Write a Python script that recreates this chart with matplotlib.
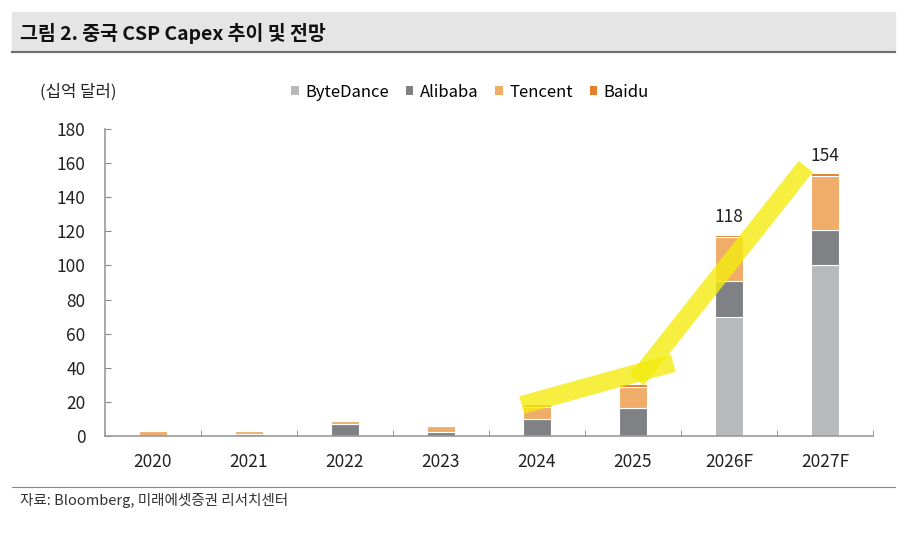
import matplotlib.pyplot as plt
import numpy as np

plt.rcParams['font.family'] = ['Noto Sans CJK KR', 'DejaVu Sans']

# 중국 CSP Capex (십억 달러)
years = ['2020', '2021', '2022', '2023', '2024', '2025', '2026F', '2027F']
bytedance = [0, 0, 0, 0, 0, 0, 70, 100]
alibaba = [0.2, 1.4, 7.0, 2.6, 10.0, 16.5, 21.0, 21.0]
tencent = [2.8, 1.8, 1.8, 3.3, 7.0, 12.5, 25.5, 31.5]
baidu = [0.2, 0.4, 0.4, 0.3, 1.5, 1.5, 1.5, 1.5]
totals_shown = {6: 118, 7: 154}

# hand-drawn yellow highlight (x in category units, y in 십억 달러)
hl1_x, hl1_y = [3.84, 5.42], [18.2, 42.8]
hl2_x, hl2_y = [5.04, 6.80], [32.8, 158.0]

colors = {'ByteDance': '#B8B9BB', 'Alibaba': '#7F8184',
          'Tencent': '#F0AD6A', 'Baidu': '#E58128'}

fig = plt.figure(figsize=(9.17, 5.46), dpi=100)
ax = fig.add_axes([105 / 917, 1 - 436 / 546, 768 / 917, 307 / 546])

x = np.arange(len(years))
bottom = np.zeros(len(years))
for name, vals in [('ByteDance', bytedance), ('Alibaba', alibaba),
                   ('Tencent', tencent), ('Baidu', baidu)]:
    ax.bar(x, vals, 0.3, bottom=bottom, color=colors[name],
           edgecolor='white', linewidth=0.8, label=name, zorder=2)
    bottom += np.array(vals)

for i, t in totals_shown.items():
    ax.text(x[i], bottom[i] + 5, str(t), ha='center', va='bottom', fontsize=12.5, color='#222222')

# yellow marker strokes
ax.plot(hl1_x, hl1_y, color='#F4EC10', alpha=0.8, lw=13, solid_capstyle='butt', zorder=3)
ax.plot(hl2_x, hl2_y, color='#F4EC10', alpha=0.8, lw=13, solid_capstyle='butt', zorder=3)

ax.set_xlim(-0.5, len(years) - 0.5)
ax.set_ylim(0, 180)
ax.set_yticks(range(0, 181, 20))
ax.set_xticks(x)
ax.set_xticklabels(years)
ax.set_xticks(np.arange(-0.5, len(years)), minor=True)
ax.tick_params(axis='x', which='major', length=0, labelsize=12.5, pad=12, labelcolor='#222222')
ax.tick_params(axis='x', which='minor', length=4, direction='in', color='#888888')
ax.tick_params(axis='y', length=4, direction='in', color='#888888', labelsize=12.5, pad=14, labelcolor='#222222')
for s in ['top', 'right']:
    ax.spines[s].set_visible(False)
for s in ['left', 'bottom']:
    ax.spines[s].set_color('#999999')
    ax.spines[s].set_linewidth(1.2)

# legend
leg = ax.legend(loc='center left', bbox_to_anchor=(276 / 917, 1 - 92 / 546),
                bbox_transform=fig.transFigure, ncol=4, frameon=False,
                handlelength=0.45, handleheight=0.45, handletextpad=0.4,
                columnspacing=1.0, fontsize=12)
for h in leg.legend_handles:
    h.set_linewidth(0)

fig.text(40 / 917, 1 - 92 / 546, '(십억 달러)', fontsize=12, va='center', color='#222222')

# title band
fig.patches.append(plt.Rectangle((12 / 917, 1 - 52 / 546), 883 / 917, 40 / 546,
                                 transform=fig.transFigure, color='#E5E5E5', zorder=0))
fig.add_artist(plt.Line2D([12 / 917, 895 / 917], [1 - 52 / 546, 1 - 52 / 546],
                          transform=fig.transFigure, color='#6E6E6E', lw=1.5))
fig.text(20 / 917, 1 - 33 / 546, '그림 2. 중국 CSP Capex 추이 및 전망', fontsize=14,
         fontweight='bold', va='center', color='#111111')

# footer
fig.add_artist(plt.Line2D([12 / 917, 895 / 917], [1 - 487 / 546, 1 - 487 / 546],
                          transform=fig.transFigure, color='#888888', lw=0.8))
fig.text(20 / 917, 1 - 501 / 546, '자료: Bloomberg, 미래에셋증권 리서치센터', fontsize=10.5,
         va='center', color='#333333')

plt.savefig('out.png', dpi=100)
